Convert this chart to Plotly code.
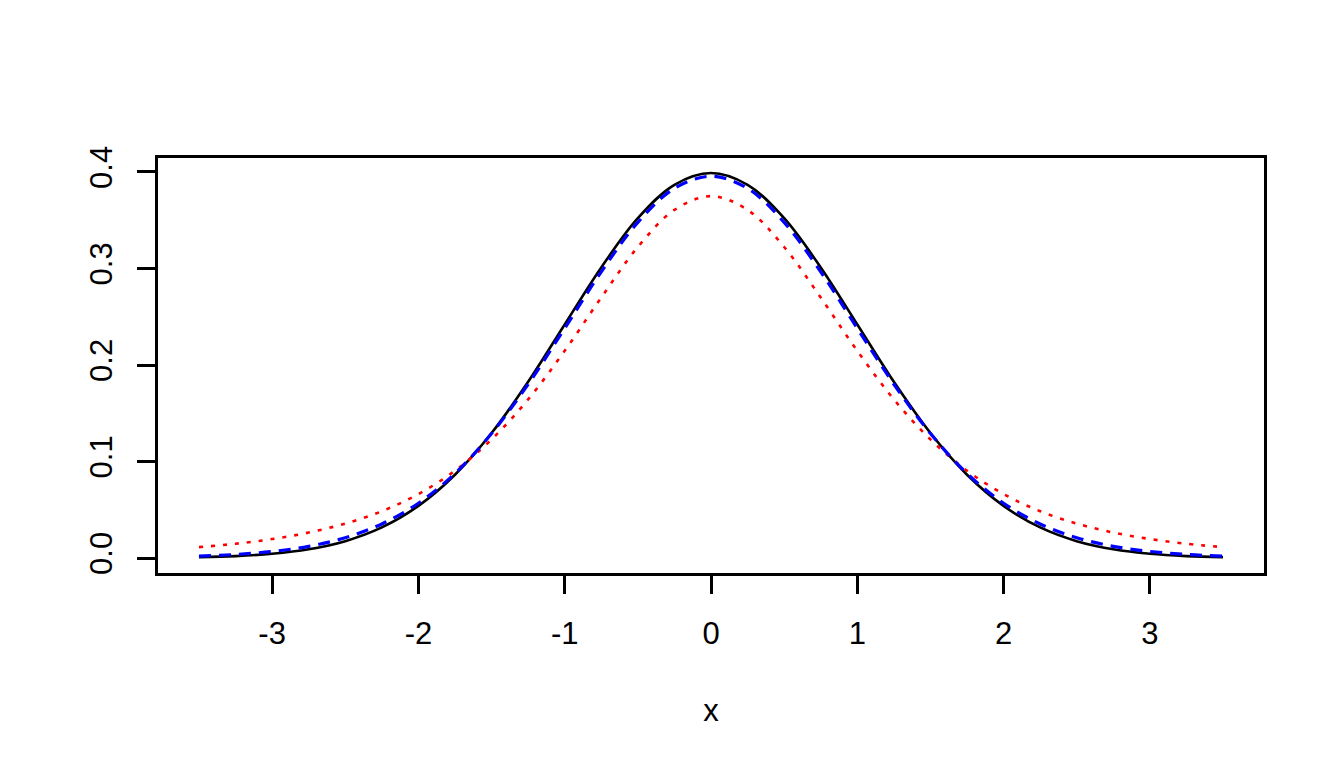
import plotly.graph_objects as go

# x grid
x_vals = [-3.5, -3.25, -3.0, -2.75, -2.5, -2.25, -2.0, -1.75, -1.5, -1.25, -1.0, -0.75, -0.5, -0.25,
          0.0, 0.25, 0.5, 0.75, 1.0, 1.25, 1.5, 1.75, 2.0, 2.25, 2.5, 2.75, 3.0, 3.25, 3.5]

# black solid curve
normal_vals = [0.0009, 0.0020, 0.0044, 0.0091, 0.0175, 0.0317, 0.0540, 0.0863, 0.1295, 0.1826,
               0.2420, 0.3011, 0.3521, 0.3867, 0.3989, 0.3867, 0.3521, 0.3011, 0.2420, 0.1826,
               0.1295, 0.0863, 0.0540, 0.0317, 0.0175, 0.0091, 0.0044, 0.0020, 0.0009]

# red dotted curve
red_vals = [0.0113, 0.0148, 0.0197, 0.0264, 0.0357, 0.0485, 0.0663, 0.0905, 0.1229, 0.1644,
            0.2147, 0.2699, 0.3223, 0.3607, 0.3750, 0.3607, 0.3223, 0.2699, 0.2147, 0.1644,
            0.1229, 0.0905, 0.0663, 0.0485, 0.0357, 0.0264, 0.0197, 0.0148, 0.0113]

# blue dashed curve
blue_vals = [0.0020, 0.0037, 0.0068, 0.0121, 0.0211, 0.0353, 0.0568, 0.0876, 0.1290, 0.1801,
             0.2380, 0.2966, 0.3478, 0.3830, 0.3956, 0.3830, 0.3478, 0.2966, 0.2380, 0.1801,
             0.1290, 0.0876, 0.0568, 0.0353, 0.0211, 0.0121, 0.0068, 0.0037, 0.0020]

x_ticks = [-3, -2, -1, 0, 1, 2, 3]
y_ticks = [0.0, 0.1, 0.2, 0.3, 0.4]
y_tick_text = ["0.0", "0.1", "0.2", "0.3", "0.4"]

fig = go.Figure()
fig.add_trace(go.Scatter(x=x_vals, y=normal_vals, mode="lines",
                         line=dict(color="black", width=2.6, shape="spline", smoothing=1.0)))
fig.add_trace(go.Scatter(x=x_vals, y=red_vals, mode="lines",
                         line=dict(color="red", width=2.6, dash="4px,8px", shape="spline", smoothing=1.0)))
fig.add_trace(go.Scatter(x=x_vals, y=blue_vals, mode="lines",
                         line=dict(color="blue", width=3.2, dash="12px,8px", shape="spline", smoothing=1.0)))

font = dict(family="Liberation Sans, Arial, sans-serif", size=31, color="black")

fig.update_layout(
    width=1344, height=768,
    margin=dict(l=150, r=88, t=150, b=203),
    paper_bgcolor="white", plot_bgcolor="white",
    showlegend=False,
    font=font,
    xaxis=dict(range=[-3.78, 3.78], tickmode="array", tickvals=x_ticks,
               ticktext=[str(v) for v in x_ticks],
               showgrid=False, zeroline=False, showline=True, mirror=True,
               linecolor="black", linewidth=2.5, ticks="outside", ticklen=18, tickwidth=2.5,
               tickcolor="black", ticklabelstandoff=13, tickfont=font,
               title=dict(text="x", font=font, standoff=50)),
    yaxis=dict(range=[-0.0155, 0.4145], tickmode="array", tickvals=y_ticks, ticktext=y_tick_text,
               showgrid=False, zeroline=False, showline=True, mirror=True,
               linecolor="black", linewidth=2.5, ticks="outside", ticklen=18, tickwidth=2.5,
               tickcolor="black", tickangle=-90, ticklabelstandoff=13, tickfont=font),
)

fig.write_html("out.html")
